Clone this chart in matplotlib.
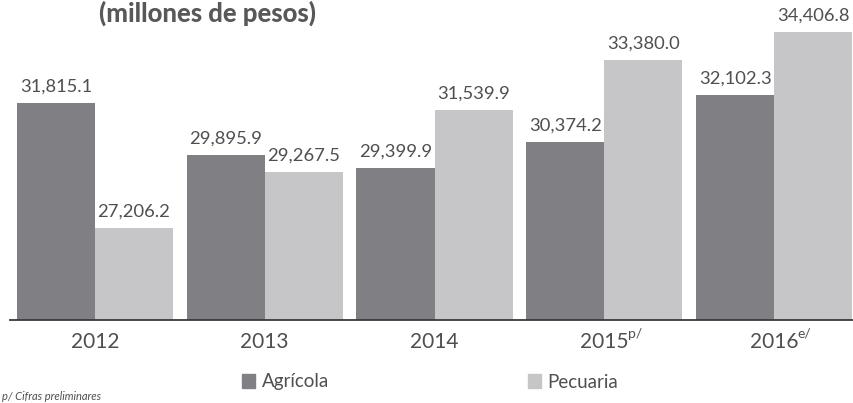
import matplotlib.pyplot as plt
from matplotlib.patches import Patch
import numpy as np

plt.rcParams['font.family'] = ['Lato', 'DejaVu Sans']

# datos
anios = ['2012', '2013', '2014', '2015', '2016']
sup = ['', '', '', 'p/', 'e/']
agricola = [31815.1, 29895.9, 29399.9, 30374.2, 32102.3]
pecuaria = [27206.2, 29267.5, 31539.9, 33380.0, 34406.8]

col_agr = '#808084'
col_pec = '#c6c6c8'
col_txt = '#4f4f51'

fig = plt.figure(figsize=(8.54, 4.03), dpi=100)
ax = fig.add_axes([10 / 854, 1 - 320 / 403, 844 / 854, 320 / 403])

x = np.arange(len(anios))
w = 0.46
b1 = ax.bar(x - w / 2, agricola, w, color=col_agr)
b2 = ax.bar(x + w / 2, pecuaria, w, color=col_pec)

for barras, vals in ((b1, agricola), (b2, pecuaria)):
    for r, v in zip(barras, vals):
        ax.annotate(f'{v:,.1f}', (r.get_x() + r.get_width() / 2, v),
                    xytext=(0, 6), textcoords='offset points',
                    ha='center', va='bottom', fontsize=13.2, color=col_txt)

ax.set_xlim(-0.5, 4.47)
ax.set_ylim(23826, 35582)
ax.set_yticks([])
ax.set_xticks(x)
ax.set_xticklabels(anios, fontsize=15, color=col_txt)
ax.tick_params(axis='x', length=0, pad=9)
for s in ['top', 'left', 'right']:
    ax.spines[s].set_visible(False)
ax.spines['bottom'].set_color('#3a3a3c')
ax.spines['bottom'].set_linewidth(1.3)
ax.patch.set_alpha(0)

# superindices de los años
for i, s in enumerate(sup):
    if s:
        ax.annotate(s, (i, 0), xycoords=('data', 'axes fraction'),
                    xytext=(17, -10), textcoords='offset points',
                    ha='left', va='center', fontsize=10, color=col_txt)

fig.text(208 / 854, 1 - 1 / 403, '(millones de pesos)', ha='center', va='top',
         fontsize=18.5, fontweight='black', color='#58585a')

handles = [Patch(color=col_agr), Patch(color=col_pec)]
fig.legend(handles, ['Agrícola', 'Pecuaria'], loc='center', ncol=2,
           bbox_to_anchor=(430 / 854, 1 - 382 / 403), frameon=False,
           fontsize=13.5, handlelength=0.7, handleheight=0.7, handletextpad=0.35,
           columnspacing=10.6, labelcolor=col_txt)

fig.text(2 / 854, 1 / 403, 'p/ Cifras preliminares', ha='left', va='bottom',
         fontsize=8, style='italic', color=col_txt)

fig.savefig('out.png', dpi=100)
